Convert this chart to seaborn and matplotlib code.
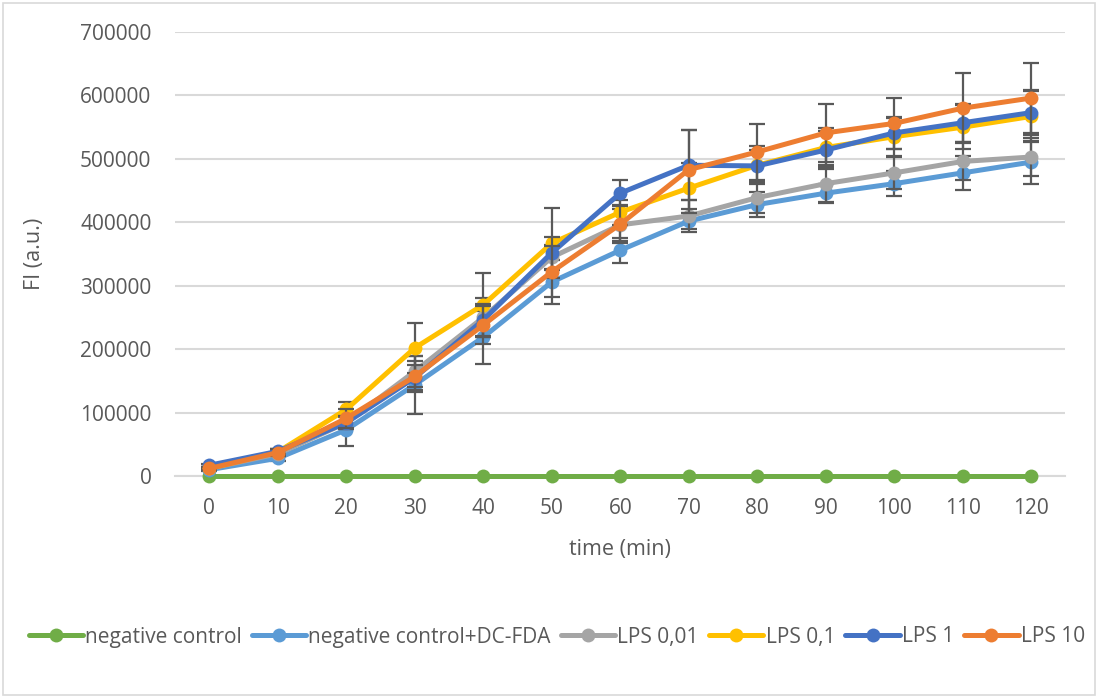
import numpy as np
import pandas as pd
import matplotlib
matplotlib.use("Agg")
import matplotlib.pyplot as plt
import seaborn as sns
from matplotlib.patches import Rectangle

time_min = [0, 10, 20, 30, 40, 50, 60, 70, 80, 90, 100, 110, 120]
series_names = ["negative control", "negative control+DC-FDA", "LPS 0,01", "LPS 0,1", "LPS 1", "LPS 10"]

neg_control = [0, 0, 0, 0, 0, 0, 0, 0, 0, 0, 0, 0, 0]
neg_dcfda = [10000, 28000, 73000, 144000, 219000, 306000, 356000, 402000, 428000, 446000, 461000, 478000, 495000]
lps_001 = [12000, 35000, 84000, 165000, 250000, 345000, 396000, 410000, 439000, 461000, 478000, 496000, 503000]
lps_01 = [12000, 38000, 105000, 202000, 270000, 367000, 416000, 454000, 490000, 518000, 535000, 550000, 567000]
lps_1 = [17000, 39000, 84000, 155000, 246000, 352000, 446000, 490000, 489000, 514000, 541000, 557000, 573000]
lps_10 = [12000, 37000, 91000, 157000, 238000, 322000, 397000, 483000, 511000, 541000, 556000, 580000, 596000]

err_dcfda = [2000, 5000, 25000, 46000, 42000, 35000, 20000, 12000, 20000, 14000, 20000, 27000, 34000]
err_001 = [2000, 4000, 10000, 25000, 30000, 20000, 25000, 25000, 25000, 30000, 25000, 30000, 30000]
err_01 = [3000, 5000, 12000, 39000, 50000, 55000, 20000, 40000, 30000, 30000, 30000, 35000, 40000]
err_1 = [2000, 4000, 10000, 20000, 25000, 25000, 20000, 55000, 25000, 30000, 25000, 30000, 35000]
err_10 = [3000, 5000, 15000, 25000, 30000, 40000, 30000, 62000, 44000, 46000, 40000, 55000, 55000]

colors = ["#70AD47", "#5B9BD5", "#A5A5A5", "#FFC000", "#4472C4", "#ED7D31"]
values = [neg_control, neg_dcfda, lps_001, lps_01, lps_1, lps_10]
errors = [None, err_dcfda, err_001, err_01, err_1, err_10]

frames = []
for name, vals in zip(series_names, values):
    frames.append(pd.DataFrame({"time": time_min, "FI": vals, "series": name}))
df = pd.concat(frames, ignore_index=True)

sns.set_theme(style="white")
plt.rcParams["font.family"] = ["Open Sans", "DejaVu Sans"]
text_col = "#595959"

fig = plt.figure(figsize=(10.98, 6.97), dpi=100)
ax = fig.add_axes([0.1594, 0.317, 0.811, 0.637])

for i, (name, vals, err) in enumerate(zip(series_names, values, errors)):
    z = 3 + i * 2
    if err is not None:
        ax.errorbar(time_min, vals, yerr=err, fmt="none", ecolor="#595959",
                    elinewidth=1.6, capsize=6, capthick=1.6, zorder=z - 0.5)
    sub = df[df["series"] == name]
    n_before = len(ax.lines)
    sns.lineplot(data=sub, x="time", y="FI", color=colors[i], marker="o",
                 markersize=10, markeredgewidth=0, linewidth=3.6, ax=ax,
                 zorder=z, legend=False)
    for ln in ax.lines[n_before:]:
        ln.set_clip_on(False)

ax.set_xlim(-5, 125)
ax.set_ylim(0, 700000)
ax.set_xticks(time_min)
ax.set_xticklabels([str(t) for t in time_min])
ax.set_yticks(np.arange(0, 700001, 100000))
ax.set_yticklabels([str(v) for v in range(0, 700001, 100000)])
ax.grid(axis="y", color="#D9D9D9", linewidth=1.5)
ax.grid(axis="x", visible=False)
ax.set_axisbelow(True)
for s in ["top", "right", "left"]:
    ax.spines[s].set_visible(False)
ax.spines["bottom"].set_color("#D9D9D9")
ax.spines["bottom"].set_linewidth(1.5)
ax.spines["bottom"].set_zorder(1)
ax.tick_params(axis="both", length=0, labelsize=15, colors=text_col)
ax.tick_params(axis="x", pad=16)
ax.tick_params(axis="y", pad=17)
ax.set_xlabel("time (min)", fontsize=15.5, color=text_col, labelpad=14)
ax.set_ylabel("FI (a.u.)", fontsize=15.5, color=text_col, labelpad=25)

handles = [plt.Line2D([], [], color=c, marker="o", markersize=10, markeredgewidth=0,
                      linewidth=3.6) for c in colors]
fig.legend(handles, series_names, loc="center", bbox_to_anchor=(0.507, 1 - 637 / 697),
           ncol=6, frameon=False, fontsize=15, labelcolor=text_col,
           handlelength=2.6, handletextpad=0.1, columnspacing=0.5)

fig.patches.append(Rectangle((0.003, 0.003), 0.994, 0.993, transform=fig.transFigure,
                             fill=False, edgecolor="#D9D9D9", linewidth=1.2))

fig.savefig("out.png", dpi=100)
